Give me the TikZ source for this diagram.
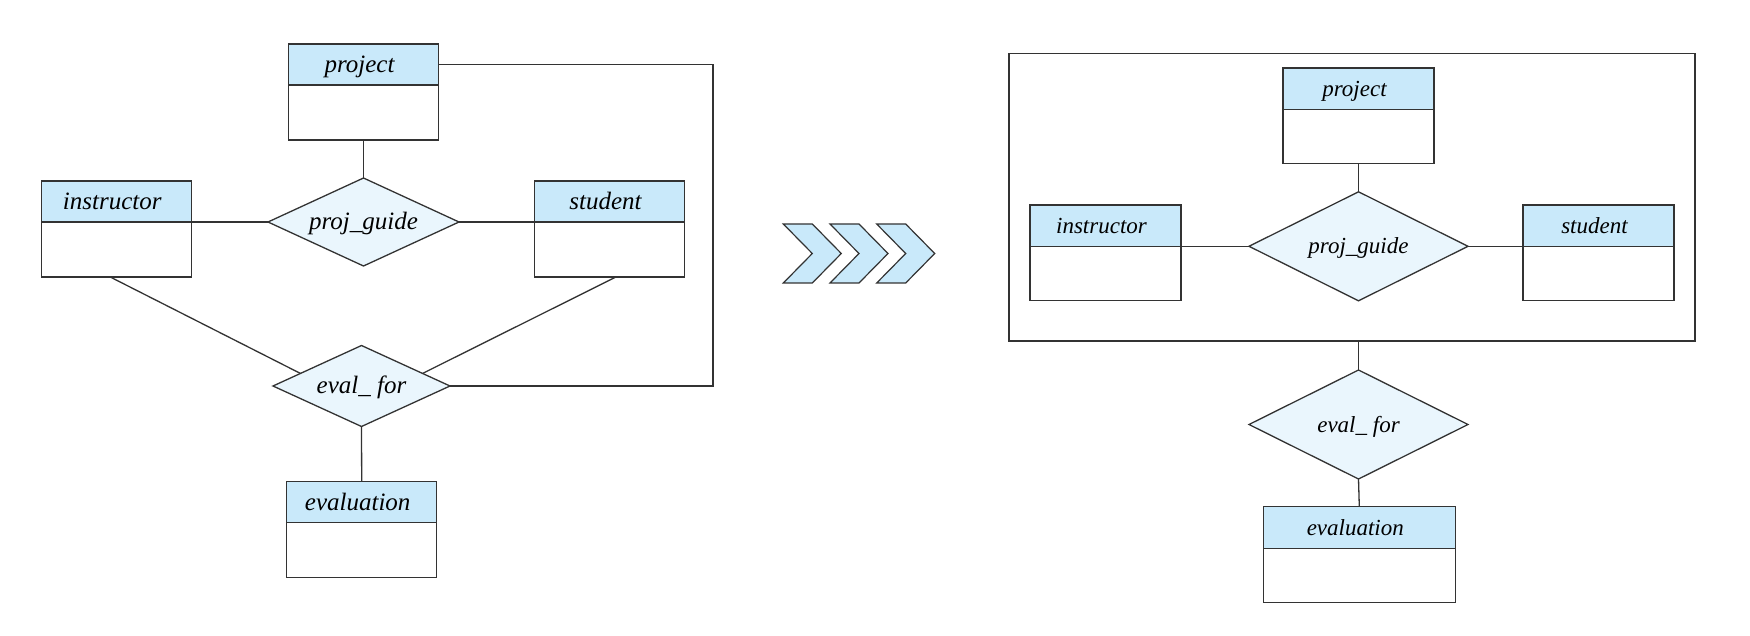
\documentclass[tikz,border=0pt]{standalone}
\usepackage{fontspec}
\setmainfont{Liberation Serif}
\usetikzlibrary{shapes.geometric,calc}
\definecolor{hdr}{HTML}{C9E9FA}
\definecolor{dia}{HTML}{EAF6FD}
\definecolor{ln}{HTML}{333333}
\newcommand\hd[1]{#1\hspace*{4pt}}
\newcommand\bodysides[1]{\draw[conn] (#1.north west) |- (#1.south east) -- (#1.north east);}
\begin{document}
\begin{tikzpicture}[x=0.5pt,y=-0.5pt,
  conn/.style={draw=ln, line width=0.65pt},
  hbase/.style={draw=ln, line width=0.65pt, fill=hdr, inner sep=0pt, outer sep=0pt, text height=9pt, text depth=1pt},
  bbase/.style={inner sep=0pt, outer sep=0pt, anchor=north},
  hL/.style={hbase, minimum width=75pt, minimum height=20.5pt, font=\fontsize{12.5}{14}\selectfont\itshape},
  bL/.style={bbase, minimum width=75pt, minimum height=27.5pt},
  hR/.style={hbase, minimum width=75.5pt, minimum height=20.65pt, font=\fontsize{11.5}{13}\selectfont\itshape},
  bR/.style={bbase, minimum width=75.5pt, minimum height=27.2pt},
  dbase/.style={diamond, draw=ln, line width=0.65pt, fill=dia, inner sep=0pt, outer sep=0pt, text height=8.5pt, text depth=1pt},
  chev/.style={draw=ln, line width=0.6pt, fill=hdr, line join=miter},
  grpbox/.style={draw=ln, line width=0.65pt, inner sep=0pt, outer sep=0pt, minimum width=343pt, minimum height=143.85pt}
]
\useasboundingbox (0,0) rectangle (1750,636);

% ---------- left diagram ----------
\node[hL] (pLh) at (363.5,64.5) {\hd{project}};
\node[bL] (pLb) at (pLh.south) {};
\node[hL] (iLh) at (116.25,201.5) {\hd{instructor}};
\node[bL] (iLb) at (iLh.south) {};
\node[hL] (sLh) at (609.5,201.5) {\hd{student}};
\node[bL] (sLb) at (sLh.south) {};
\node[hL] (evLh) at (361.7,502) {\hd{evaluation}};
\node[bL] (evLb) at (evLh.south) {};
\bodysides{pLb}
\bodysides{iLb}
\bodysides{sLb}
\bodysides{evLb}

\node[dbase, shape aspect=2.17, minimum width=95.5pt, minimum height=44pt,
      font=\fontsize{12.5}{14}\selectfont\itshape] (pgL) at (363.5,222) {proj\_guide};
\node[dbase, shape aspect=2.185, minimum width=88.5pt, minimum height=40.5pt,
      font=\fontsize{12.5}{14}\selectfont\itshape] (efL) at (361.5,386) {eval\_ for};

\coordinate (cL) at (713,64.5);
\draw[conn] (pLb.south) -- (pgL.north);
\draw[conn] (iLh.south east) -- (pgL.west);
\draw[conn] (pgL.east) -- (sLh.south west);
\draw[conn] ($(iLb.south west)!0.46!(iLb.south east)$) -- ($(efL.west)!0.31!(efL.north)$);
\draw[conn] ($(sLb.south west)!0.543!(sLb.south east)$) -- ($(efL.east)!0.31!(efL.north)$);
\draw[conn] (pLh.east) -- (cL) |- (efL.east);
\draw[conn] (efL.south) -- (evLh.north);

% ---------- chevrons ----------
\foreach \i in {0,1,2}
  \draw[chev] ({783.3+46.7*\i},224) -- ++(29,0) -- ++(29,29.5) -- ++(-29,29.5)
      -- ++(-29,0) -- ++(29,-29.5) -- cycle;

% ---------- right diagram ----------
\node[grpbox] (grp) at (1352,197.2) {};
\node[hR] (pRh) at (1358.5,88.65) {\hd{project}};
\node[bR] (pRb) at (pRh.south) {};
\node[hR] (iRh) at (1105.5,225.65) {\hd{instructor}};
\node[bR] (iRb) at (iRh.south) {};
\node[hR] (sRh) at (1598.5,225.65) {\hd{student}};
\node[bR] (sRb) at (sRh.south) {};
\node[hR, minimum width=96pt, minimum height=20.8pt] (evRh) at (1359.3,527.5) {\hd{evaluation}};
\node[bR, minimum width=96pt] (evRb) at (evRh.south) {};
\bodysides{pRb}
\bodysides{iRb}
\bodysides{sRb}
\bodysides{evRb}

\node[dbase, shape aspect=2.01, minimum width=109.5pt, minimum height=54.5pt,
      font=\fontsize{11.5}{13}\selectfont\itshape] (pgR) at (1358.5,246.3) {proj\_guide};
\node[dbase, shape aspect=2.01, minimum width=109.5pt, minimum height=54.5pt,
      font=\fontsize{11.5}{13}\selectfont\itshape] (efR) at (1358.5,424.5) {eval\_ for};

\draw[conn] (pRb.south) -- (pgR.north);
\draw[conn] (iRh.south east) -- (pgR.west);
\draw[conn] (pgR.east) -- (sRh.south west);
\draw[conn] (efR.north |- grp.south) -- (efR.north);
\draw[conn] (efR.south) -- (evRh.north);
\end{tikzpicture}
\end{document}
